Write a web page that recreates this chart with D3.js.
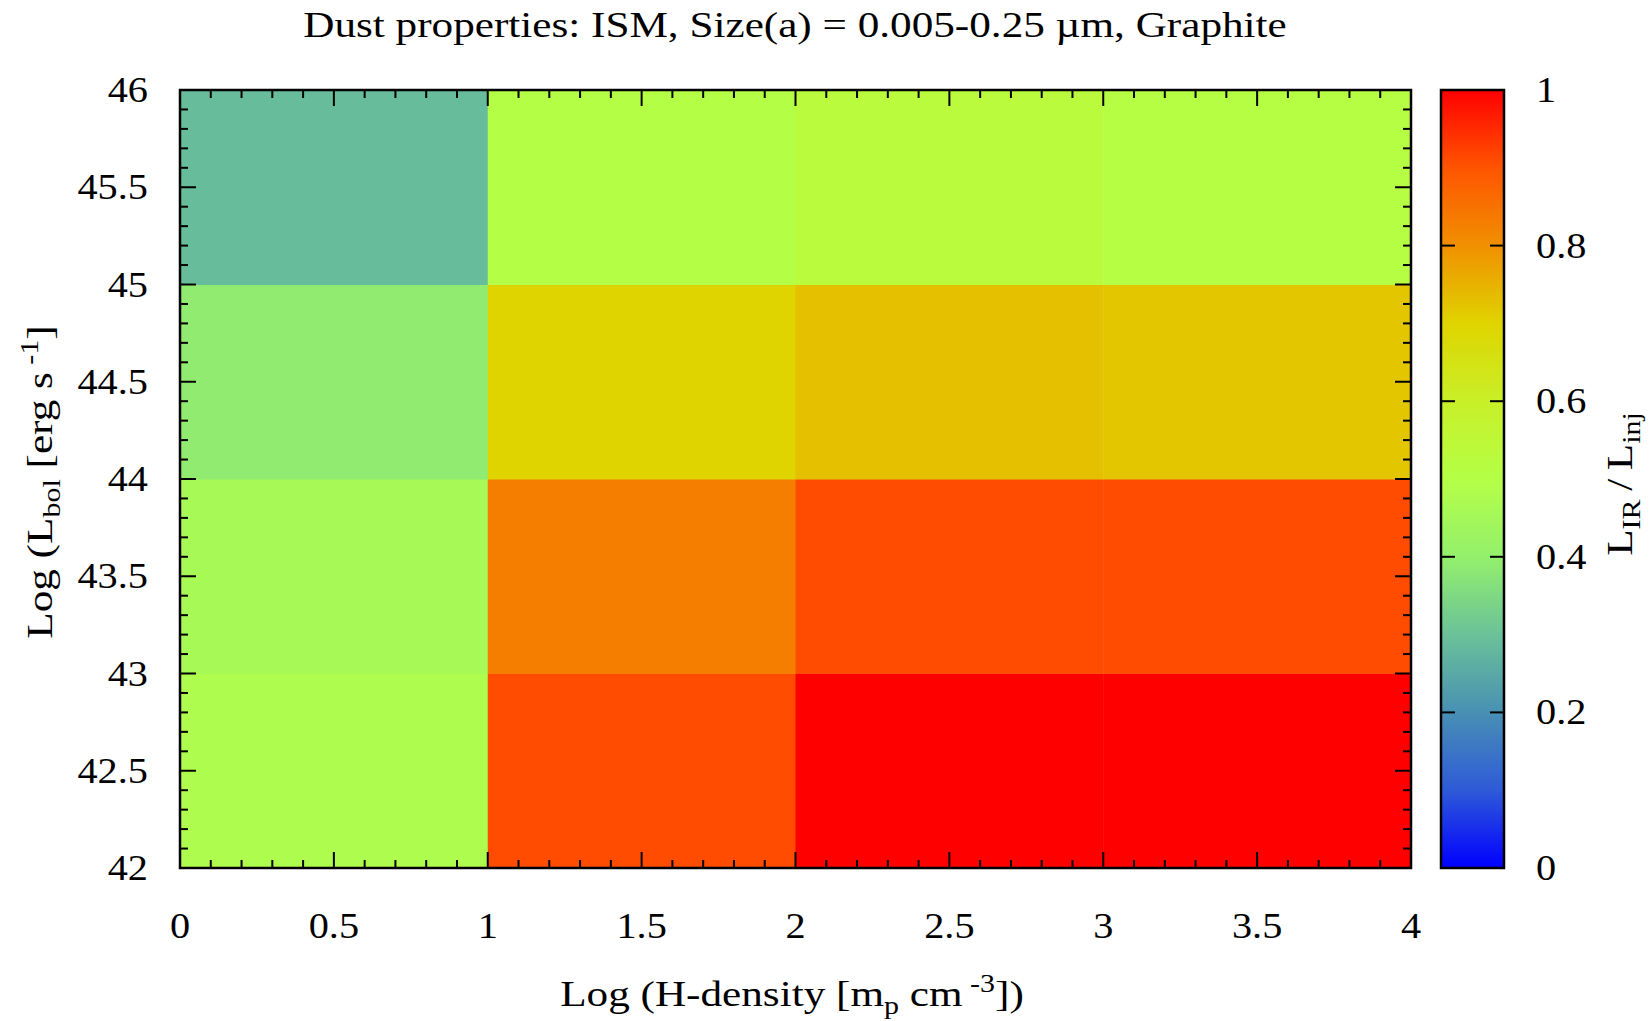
<!DOCTYPE html>
<html><head><meta charset="utf-8">
<script src="https://cdn.jsdelivr.net/npm/d3@7"></script>
<style>
html,body{margin:0;padding:0;background:#fff;}
svg{display:block;}
text{font-family:"Liberation Serif","DejaVu Serif","Times New Roman",serif;}
</style></head>
<body>
<svg id="chart" width="1652" height="1021" font-family="Liberation Serif, DejaVu Serif, serif"></svg>
<script>
// ---- data ----
const xEdges = [0, 1, 2, 3, 4];           // Log H-density cell edges
const yEdges = [42, 43, 44, 45, 46];      // Log Lbol cell edges
// values[row][col], row 0 = Lbol 42-43
const row42 = [0.48, 0.91, 1.00, 1.00];
const row43 = [0.46, 0.83, 0.91, 0.91];
const row44 = [0.39, 0.70, 0.73, 0.72];
const row45 = [0.29, 0.50, 0.53, 0.51];
const values = [row42, row43, row44, row45];
const xTicks = [0, 0.5, 1, 1.5, 2, 2.5, 3, 3.5, 4];
const yTicks = [42, 42.5, 43, 43.5, 44, 44.5, 45, 45.5, 46];
const cbTicks = [0, 0.2, 0.4, 0.6, 0.8, 1];
const paletteStops = [0, 0.1, 0.2, 0.3, 0.4, 0.5, 0.6, 0.7, 0.8, 0.9, 1];
const paletteColors = ["#0000ff","#2e5ad8","#4890b4","#6ac298","#94f06c","#b4ff46","#c8f028","#e0d400","#f09000","#ff5400","#ff0000"];

// ---- layout ----
const L = 180, R = 1411, T = 90, B = 868;
const cbL = 1441, cbR = 1504;
const FS = 36;
const FF = "Liberation Serif, DejaVu Serif, serif";
const SX = 1.12;   // horizontal stretch for tick labels
const SL = 1.2;    // horizontal stretch for titles

const svg = d3.select("#chart");
const x = d3.scaleLinear().domain([0, 4]).range([L, R]);
const y = d3.scaleLinear().domain([42, 46]).range([B, T]);
const color = d3.scaleLinear().domain(paletteStops).range(paletteColors).interpolate(d3.interpolateRgb).clamp(true);
const cy = d3.scaleLinear().domain([0, 1]).range([B, T]);

// cells
const cells = [];
values.forEach((row, i) => row.forEach((v, j) => cells.push({x0: xEdges[j], x1: xEdges[j+1], y0: yEdges[i], y1: yEdges[i+1], v})));
svg.append("g").selectAll("rect").data(cells).join("rect")
  .attr("x", d => x(d.x0)).attr("y", d => y(d.y1))
  .attr("width", d => x(d.x1) - x(d.x0) + 0.5).attr("height", d => y(d.y0) - y(d.y1) + 0.5)
  .attr("fill", d => color(d.v));

// ticks (inward, all four sides)
const ax = svg.append("g").attr("stroke", "#000").attr("stroke-width", 2);
const xMinor = d3.range(0, 4.0001, 0.1).map(v => +v.toFixed(2));
const yMinor = d3.range(42, 46.0001, 0.1).map(v => +v.toFixed(2));
const isMajor = v => Math.abs(v * 2 - Math.round(v * 2)) < 1e-6;
xMinor.forEach(v => {
  const len = isMajor(v) ? 16 : 8;
  ax.append("line").attr("x1", x(v)).attr("x2", x(v)).attr("y1", B).attr("y2", B - len);
  ax.append("line").attr("x1", x(v)).attr("x2", x(v)).attr("y1", T).attr("y2", T + len);
});
yMinor.forEach(v => {
  const len = isMajor(v) ? 16 : 8;
  ax.append("line").attr("y1", y(v)).attr("y2", y(v)).attr("x1", L).attr("x2", L + len);
  ax.append("line").attr("y1", y(v)).attr("y2", y(v)).attr("x1", R).attr("x2", R - len);
});
svg.append("rect").attr("x", L).attr("y", T).attr("width", R - L).attr("height", B - T)
  .attr("fill", "none").attr("stroke", "#000").attr("stroke-width", 2.5);

// tick labels
const tl = svg.append("g").attr("font-size", FS).attr("font-family", FF).attr("fill", "#000");
tl.selectAll(".xt").data(xTicks).join("text").attr("class", "xt")
  .attr("transform", d => `translate(${x(d)},938) scale(${SX},1)`).attr("text-anchor", "middle").text(d => d);
tl.selectAll(".yt").data(yTicks).join("text").attr("class", "yt")
  .attr("transform", d => `translate(148,${y(d) + 12}) scale(${SX},1)`).attr("text-anchor", "end").text(d => d);

// colorbar
const defs = svg.append("defs");
const grad = defs.append("linearGradient").attr("id", "cbg").attr("x1", 0).attr("y1", 1).attr("x2", 0).attr("y2", 0);
d3.range(0, 1.0001, 0.02).forEach(t => grad.append("stop").attr("offset", t).attr("stop-color", color(t)));
svg.append("rect").attr("x", cbL).attr("y", T).attr("width", cbR - cbL).attr("height", B - T).attr("fill", "url(#cbg)");
const cbax = svg.append("g").attr("stroke", "#000").attr("stroke-width", 2);
cbTicks.forEach(v => {
  cbax.append("line").attr("x1", cbL).attr("x2", cbL + 14).attr("y1", cy(v)).attr("y2", cy(v));
  cbax.append("line").attr("x1", cbR).attr("x2", cbR - 14).attr("y1", cy(v)).attr("y2", cy(v));
});
svg.append("rect").attr("x", cbL).attr("y", T).attr("width", cbR - cbL).attr("height", B - T)
  .attr("fill", "none").attr("stroke", "#000").attr("stroke-width", 2.5);
tl.selectAll(".ct").data(cbTicks).join("text").attr("class", "ct")
  .attr("transform", d => `translate(1536,${cy(d) + 12}) scale(${SX},1)`).attr("text-anchor", "start").text(d => d);

// title
svg.append("text").attr("transform", `translate(795,37) scale(${SL},1)`).attr("text-anchor", "middle").attr("font-size", FS).attr("font-family", FF)
  .text("Dust properties: ISM, Size(a) = 0.005-0.25 \u00b5m, Graphite");

// x label
const xl = svg.append("text").attr("transform", `translate(792,1006) scale(${SL},1)`).attr("text-anchor", "middle").attr("font-size", FS).attr("font-family", FF);
xl.append("tspan").text("Log (H-density [m");
xl.append("tspan").attr("font-size", 25).attr("dy", 8).text("p");
xl.append("tspan").attr("dy", -8).text(" cm");
xl.append("tspan").attr("font-size", 25).attr("dy", -14).text(" -3");
xl.append("tspan").attr("dy", 14).text("])");

// y label
const yl = svg.append("text").attr("transform", `translate(52,482) rotate(-90) scale(${SL},1)`).attr("text-anchor", "middle").attr("font-size", FS).attr("font-family", FF);
yl.append("tspan").text("Log (L");
yl.append("tspan").attr("font-size", 25).attr("dy", 8).text("bol");
yl.append("tspan").attr("dy", -8).text(" [erg s");
yl.append("tspan").attr("font-size", 25).attr("dy", -14).text(" -1");
yl.append("tspan").attr("dy", 14).text("]");

// colorbar label
const cl = svg.append("text").attr("transform", `translate(1632,484) rotate(-90) scale(${SL},1)`).attr("text-anchor", "middle").attr("font-size", FS).attr("font-family", FF);
cl.append("tspan").text("L");
cl.append("tspan").attr("font-size", 25).attr("dy", 8).text("IR");
cl.append("tspan").attr("dy", -8).text("\u2009/\u2009L");
cl.append("tspan").attr("font-size", 25).attr("dy", 8).text("inj");
</script>
</body></html>
